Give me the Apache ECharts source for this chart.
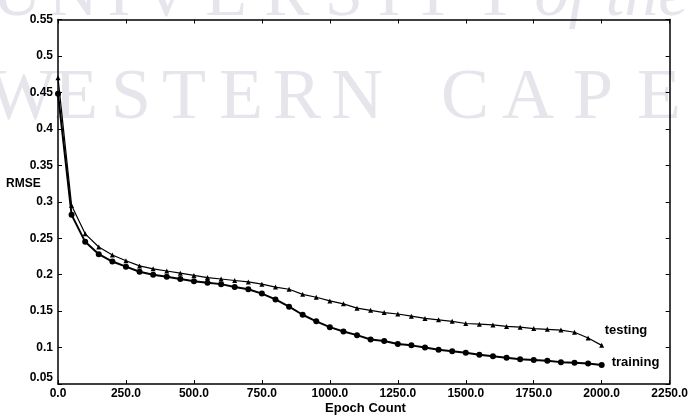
<!DOCTYPE html>
<html>
<head>
<meta charset="utf-8">
<script src="https://cdn.jsdelivr.net/npm/echarts@6/dist/echarts.min.js"></script>
<style>
html,body{margin:0;padding:0;background:#fff;}
#c{width:691px;height:418px;}
</style>
</head>
<body>
<div id="c"></div>
<script>
// ---- data ----
var epochs = [0,50,100,150,200,250,300,350,400,450,500,550,600,650,700,750,800,850,900,950,1000,
  1050,1100,1150,1200,1250,1300,1350,1400,1450,1500,1550,1600,1650,1700,1750,1800,1850,1900,1950,2000];
var trainingRMSE = [0.448,0.282,0.245,0.228,0.218,0.211,0.204,0.200,0.197,0.194,0.191,0.189,0.187,0.183,0.180,0.174,0.166,0.156,0.145,0.136,0.128,
  0.122,0.117,0.111,0.109,0.105,0.103,0.100,0.097,0.095,0.093,0.090,0.088,0.086,0.084,0.083,0.082,0.080,0.079,0.078,0.076];
var testingRMSE = [0.470,0.295,0.256,0.238,0.227,0.219,0.212,0.208,0.205,0.202,0.199,0.196,0.194,0.192,0.190,0.187,0.183,0.180,0.173,0.169,0.164,
  0.160,0.154,0.151,0.148,0.146,0.143,0.140,0.138,0.136,0.133,0.132,0.131,0.129,0.128,0.126,0.125,0.124,0.121,0.113,0.103];
var seriesNames = ['training','testing'];
var xAxisTitle = 'Epoch Count';
var yAxisTitle = 'RMSE';
var watermarkLine1 = [['U',17],['N',73],['I',119],['V',166],['E',226],['R',287],['S',344],['I',389],['T',433],['Y',495]];
var watermarkLine1b = [['of',561],['the',647]];
var watermarkLine2 = [['W',22],['E',76],['S',131],['T',184],['E',241],['R',297],['N',357],['C',465],['A',528],['P',593],['E',659]];

function pairs(xs, ys){ return xs.map(function(x,i){ return [x, ys[i]]; }); }

var chart = echarts.init(document.getElementById('c'), null, {renderer:'canvas'});
var FONT = '"Liberation Sans", Arial, sans-serif';
var wmColor = '#e5e5eb';
var graphics = [];
watermarkLine2.forEach(function(p){
  graphics.push({type:'text', x:p[1], y:99, z:-10, silent:true,
    style:{text:p[0], fill:wmColor, font:'72px "Liberation Serif", serif', textAlign:'center', textVerticalAlign:'middle'}});
});
watermarkLine1.forEach(function(p){
  graphics.push({type:'text', x:p[1], y:-3, z:-10, silent:true,
    style:{text:p[0], fill:wmColor, font:'68px "Liberation Serif", serif', textAlign:'center', textVerticalAlign:'middle'}});
});
watermarkLine1b.forEach(function(p){
  graphics.push({type:'text', x:p[1], y:-3, z:-10, silent:true,
    style:{text:p[0], fill:wmColor, font:'italic 68px "Liberation Serif", serif', textAlign:'center', textVerticalAlign:'middle'}});
});
graphics.push({type:'text', x:6, y:184, z:10, silent:true,
  style:{text:yAxisTitle, fill:'#000', font:'bold 12px ' + FONT, textAlign:'left', textVerticalAlign:'middle'}});
graphics.push({type:'text', x:365.5, y:408, z:10, silent:true,
  style:{text:xAxisTitle, fill:'#000', font:'bold 13px ' + FONT, textAlign:'center', textVerticalAlign:'middle'}});

var axisLineStyle = {color:'#000', width:1.5};
var labelStyle = {color:'#000', fontFamily:FONT, fontWeight:'bold', fontSize:12};

var option = {
  animation:false,
  backgroundColor:'#fff',
  graphic: graphics,
  grid:{left:58, right:17.5, top:19.5, bottom:34, containLabel:false},
  xAxis:[{
    type:'value', min:0, max:2250, interval:250, position:'bottom',
    axisLine:{show:true, onZero:false, lineStyle:axisLineStyle},
    axisTick:{show:true, inside:true, length:4, lineStyle:{color:'#000', width:1}},
    splitLine:{show:false},
    axisLabel:Object.assign({margin:4, formatter:function(v){return v.toFixed(1);}}, labelStyle)
  },{
    type:'value', min:0, max:2250, interval:250, position:'top',
    axisLine:{show:true, onZero:false, lineStyle:axisLineStyle},
    axisTick:{show:true, inside:true, length:4, lineStyle:{color:'#000', width:1}},
    splitLine:{show:false}, axisLabel:{show:false}
  }],
  yAxis:[{
    type:'value', min:0.05, max:0.55, interval:0.05, position:'left',
    axisLine:{show:true, onZero:false, lineStyle:axisLineStyle},
    axisTick:{show:true, inside:true, length:4, lineStyle:{color:'#000', width:1}},
    splitLine:{show:false},
    axisLabel:Object.assign({margin:5, verticalAlignMinLabel:'bottom',
      formatter:function(v){ return String(parseFloat(v.toFixed(2))); }
    }, labelStyle)
  },{
    type:'value', min:0.05, max:0.55, interval:0.05, position:'right',
    axisLine:{show:true, onZero:false, lineStyle:axisLineStyle},
    axisTick:{show:true, inside:true, length:4, lineStyle:{color:'#000', width:1}},
    splitLine:{show:false}, axisLabel:{show:false}
  }],
  series:[{
    name:seriesNames[0], type:'line', xAxisIndex:0, yAxisIndex:0,
    data:pairs(epochs, trainingRMSE),
    symbol:'circle', symbolSize:6,
    lineStyle:{color:'#000', width:2},
    itemStyle:{color:'#000'},
    endLabel:{show:true, formatter:seriesNames[0], position:'right', distance:0, offset:[10,-3],
      color:'#000', fontFamily:FONT, fontWeight:'bold', fontSize:13}
  },{
    name:seriesNames[1], type:'line', xAxisIndex:0, yAxisIndex:0,
    data:pairs(epochs, testingRMSE),
    symbol:'triangle', symbolSize:5,
    lineStyle:{color:'#000', width:1.2},
    itemStyle:{color:'#000'},
    endLabel:{show:true, formatter:seriesNames[1], position:'right', distance:0, offset:[3,-15],
      color:'#000', fontFamily:FONT, fontWeight:'bold', fontSize:13}
  }]
};
chart.setOption(option);
</script>
</body>
</html>
